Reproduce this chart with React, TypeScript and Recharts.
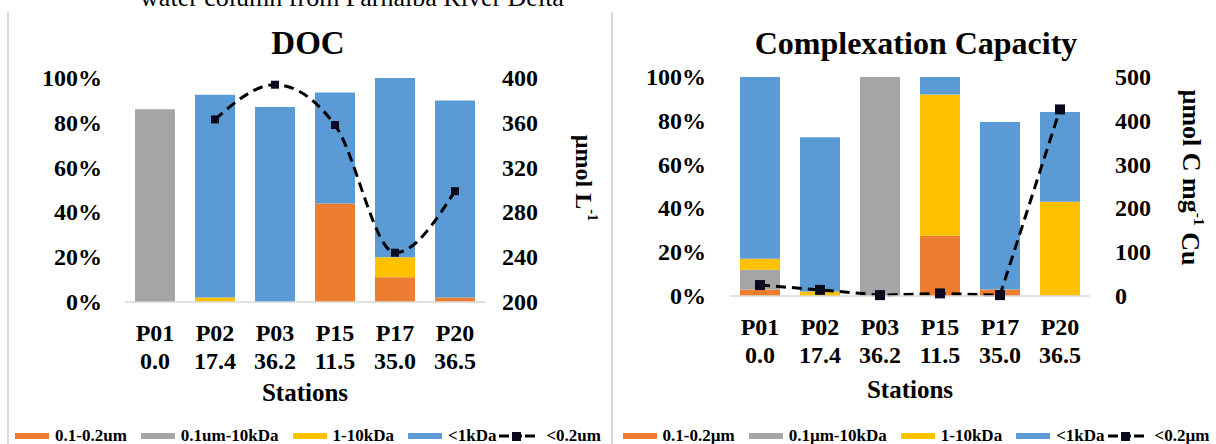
import React from 'react';
import { ComposedChart, Bar, Line, XAxis, YAxis, Legend } from 'recharts';

const stations = ['P01', 'P02', 'P03', 'P15', 'P17', 'P20'];
const salinity = ['0.0', '17.4', '36.2', '11.5', '35.0', '36.5'];

// DOC (% fractions, stacked) and total DOC (µmol L-1)
const docSmall = [0, 0, 0, 44, 11, 2]; // 0.1-0.2um
const docColloid = [86, 0, 0, 0, 0, 0]; // 0.1um-10kDa
const docMid = [0, 2, 0, 0, 9, 0]; // 1-10kDa
const docLow = [0, 90.5, 87, 49.5, 80, 88]; // <1kDa
const docTotal = [null, 363, 394, 358, 244, 299]; // <0.2um

// Complexation capacity (% fractions) and total (µmol C mg-1 Cu)
const ccSmall = [3, 0, 0, 27.5, 3, 0];
const ccColloid = [9, 0, 100, 0, 0, 0];
const ccMid = [5, 2, 0, 64.5, 0, 43];
const ccLow = [83, 70.5, 0, 8, 76.5, 41];
const ccTotal = [25, 14, 2, 6, 2, 426];

const pctTicks = [0, 20, 40, 60, 80, 100];
const docTicks = [200, 240, 280, 320, 360, 400];
const ccTicks = [0, 100, 200, 300, 400, 500];

const COLORS = { small: '#ED7D31', colloid: '#A5A5A5', mid: '#FFC000', low: '#5B9BD5' };
const FONT = 'Liberation Serif';

const docData = stations.map((s, i) => ({
  station: s,
  small: docSmall[i],
  colloid: docColloid[i],
  mid: docMid[i],
  low: docLow[i],
  total: docTotal[i],
}));

const ccData = stations.map((s, i) => ({
  station: s,
  small: ccSmall[i],
  colloid: ccColloid[i],
  mid: ccMid[i],
  low: ccLow[i],
  total: ccTotal[i],
}));

const T = (props: any) => {
  const { children, size, ...rest } = props;
  return (
    <text fontFamily={FONT} fontWeight="bold" fontSize={size} fill="#000" stroke="none" {...rest}>
      {children}
    </text>
  );
};

const StationTick = (props: any) => {
  const { x, y, payload } = props;
  const idx = stations.indexOf(payload.value);
  return (
    <g>
      <T x={x} y={y + 31} textAnchor="middle" size={24}>{payload.value}</T>
      <T x={x} y={y + 59} textAnchor="middle" size={24}>{salinity[idx]}</T>
    </g>
  );
};

const ValueTick = (props: any) => {
  const { x, y, payload, anchor, pct } = props;
  return (
    <T x={x} y={y + 8} textAnchor={anchor} size={24}>
      {pct ? `${payload.value}%` : String(payload.value)}
    </T>
  );
};

const XTitle = (props: any) => {
  const { viewBox, shiftY } = props;
  if (!viewBox) return null;
  return (
    <T x={viewBox.x + viewBox.width / 2} y={viewBox.y + shiftY} textAnchor="middle" size={25}>
      Stations
    </T>
  );
};

const RightTitle = (props: any) => {
  const { viewBox, shiftX, shiftY, main, sup, tail, size } = props;
  if (!viewBox) return null;
  const cx = viewBox.x + shiftX;
  const cy = viewBox.y + viewBox.height / 2 + shiftY;
  return (
    <T x={cx} y={cy} transform={`rotate(90, ${cx}, ${cy})`} textAnchor="middle" dominantBaseline="central" size={size}>
      {main}
      <tspan dy={-9} fontSize={size * 0.6}>{sup}</tspan>
      {tail ? <tspan dy={9}>{tail}</tspan> : null}
    </T>
  );
};

const makeDot = (size: number) => (p: any) => {
  const { cx, cy, value, index } = p;
  if (value == null || cx == null || cy == null || isNaN(cy)) return <g key={`d${index}`} />;
  return <rect key={`d${index}`} x={cx - size / 2} y={cy - size / 2} width={size} height={size} fill="#0a0a1e" />;
};

const Swatch = ({ color }: { color: string }) => (
  <span style={{ display: 'inline-block', width: 34, height: 6, background: color, marginRight: 6 }} />
);

const LineIcon = () => (
  <svg width={36} height={12} style={{ marginRight: 11 }}>
    <line x1={0} y1={6} x2={36} y2={6} stroke="#000" strokeWidth={3} strokeDasharray="10 3" />
    <rect x={13} y={2} width={9} height={9} fill="#0a0a1e" />
  </svg>
);

const LegendContent = ({ unit }: { unit: string }) => {
  const items = [
    { label: `0.1-0.2${unit}`, color: COLORS.small },
    { label: `0.1${unit}-10kDa`, color: COLORS.colloid },
    { label: '1-10kDa', color: COLORS.mid },
    { label: '<1kDa', color: COLORS.low },
  ];
  return (
    <div
      style={{
        width: 608,
        height: 30,
        display: 'flex',
        justifyContent: 'center',
        alignItems: 'flex-end',
        fontFamily: FONT,
        fontWeight: 700,
        fontSize: 17,
        lineHeight: '17px',
        color: '#000',
        whiteSpace: 'nowrap',
        paddingLeft: 8,
        boxSizing: 'border-box',
      }}
    >
      {items.map((it, i) => (
        <span key={i} style={{ display: 'flex', alignItems: 'center', marginRight: i === 3 ? 3 : 14 }}>
          <Swatch color={it.color} />
          <span>{it.label}</span>
        </span>
      ))}
      <span style={{ display: 'flex', alignItems: 'center' }}>
        <LineIcon />
        <span>{`<0.2${unit}`}</span>
      </span>
    </div>
  );
};

export default function App() {
  return (
    <div style={{ position: 'absolute', left: 0, top: 0, width: 1216, height: 444, background: '#fff', overflow: 'hidden', fontFamily: FONT }}>
      {/* panel borders */}
      <div style={{ position: 'absolute', left: 7, top: 12, width: 2, height: 432, background: '#d9d9d9' }} />
      <div style={{ position: 'absolute', left: 611, top: 12, width: 2, height: 432, background: '#d9d9d9' }} />

      <div style={{ position: 'absolute', left: 0, top: 0 }}>
        <ComposedChart width={608} height={444} data={docData} margin={{ top: 78, right: 0, bottom: 0, left: 0 }} barSize={40}>
          <XAxis
            dataKey="station"
            height={112}
            tickLine={false}
            axisLine={{ stroke: '#d9d9d9', strokeWidth: 1.5 }}
            tick={<StationTick />}
            interval={0}
            label={<XTitle shiftY={99} />}
          />
          <YAxis
            yAxisId="pct"
            width={125}
            domain={[0, 100]}
            ticks={pctTicks}
            axisLine={false}
            tickLine={false}
            tickMargin={17}
            tick={<ValueTick anchor="end" pct />}
          />
          <YAxis
            yAxisId="conc"
            orientation="right"
            width={123}
            domain={[200, 400]}
            ticks={docTicks}
            axisLine={false}
            tickLine={false}
            tickMargin={11}
            tick={<ValueTick anchor="start" />}
            label={<RightTitle shiftX={99} shiftY={-12} main="µmol L" sup="-1" size={24} />}
          />
          <Legend verticalAlign="bottom" wrapperStyle={{ left: 0, width: 608 }} content={() => <LegendContent unit="um" />} />
          <Bar yAxisId="pct" dataKey="small" name="0.1-0.2um" stackId="a" fill={COLORS.small} isAnimationActive={false} />
          <Bar yAxisId="pct" dataKey="colloid" name="0.1um-10kDa" stackId="a" fill={COLORS.colloid} isAnimationActive={false} />
          <Bar yAxisId="pct" dataKey="mid" name="1-10kDa" stackId="a" fill={COLORS.mid} isAnimationActive={false} />
          <Bar yAxisId="pct" dataKey="low" name="<1kDa" stackId="a" fill={COLORS.low} isAnimationActive={false} />
          <Line
            yAxisId="conc"
            dataKey="total"
            name="<0.2um"
            type="monotone"
            stroke="#000"
            strokeWidth={3}
            strokeDasharray="10 6"
            dot={makeDot(8)}
            activeDot={false}
            connectNulls={false}
            isAnimationActive={false}
          />
        </ComposedChart>
      </div>

      <div style={{ position: 'absolute', left: 608, top: 0 }}>
        <ComposedChart width={608} height={444} data={ccData} margin={{ top: 77, right: 0, bottom: 0, left: 0 }} barSize={40}>
          <XAxis
            dataKey="station"
            height={118}
            tickLine={false}
            axisLine={{ stroke: '#d9d9d9', strokeWidth: 1.5 }}
            tick={<StationTick />}
            interval={0}
            label={<XTitle shiftY={102} />}
          />
          <YAxis
            yAxisId="pct"
            width={122}
            domain={[0, 100]}
            ticks={pctTicks}
            axisLine={false}
            tickLine={false}
            tickMargin={18}
            tick={<ValueTick anchor="end" pct />}
          />
          <YAxis
            yAxisId="conc"
            orientation="right"
            width={126}
            domain={[0, 500]}
            ticks={ccTicks}
            axisLine={false}
            tickLine={false}
            tickMargin={19}
            tick={<ValueTick anchor="start" />}
            label={<RightTitle shiftX={101} shiftY={-9} main="µmol C mg" sup="-1" tail=" Cu" size={26} />}
          />
          <Legend verticalAlign="bottom" wrapperStyle={{ left: 0, width: 608 }} content={() => <LegendContent unit="µm" />} />
          <Bar yAxisId="pct" dataKey="small" name="0.1-0.2µm" stackId="a" fill={COLORS.small} isAnimationActive={false} />
          <Bar yAxisId="pct" dataKey="colloid" name="0.1µm-10kDa" stackId="a" fill={COLORS.colloid} isAnimationActive={false} />
          <Bar yAxisId="pct" dataKey="mid" name="1-10kDa" stackId="a" fill={COLORS.mid} isAnimationActive={false} />
          <Bar yAxisId="pct" dataKey="low" name="<1kDa" stackId="a" fill={COLORS.low} isAnimationActive={false} />
          <Line
            yAxisId="conc"
            dataKey="total"
            name="<0.2µm"
            type="linear"
            stroke="#000"
            strokeWidth={3}
            strokeDasharray="10 6"
            dot={makeDot(10)}
            activeDot={false}
            isAnimationActive={false}
          />
        </ComposedChart>
      </div>

      {/* titles */}
      <svg width={1216} height={444} style={{ position: 'absolute', left: 0, top: 0, pointerEvents: 'none' }}>
        <text x={352} y={6} textAnchor="middle" fontFamily={FONT} fontSize={26} fill="#000">
          water column from Parnaíba River Delta
        </text>
        <T x={308} y={54} textAnchor="middle" size={33}>DOC</T>
        <T x={916} y={54} textAnchor="middle" size={32}>Complexation Capacity</T>
      </svg>
    </div>
  );
}
